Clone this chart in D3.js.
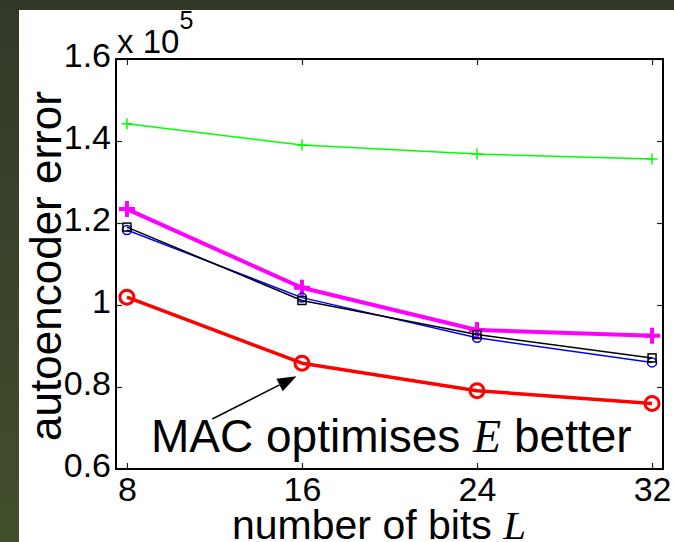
<!DOCTYPE html>
<html>
<head>
<meta charset="utf-8">
<script src="https://cdn.jsdelivr.net/npm/d3@7"></script>
<style>
  html, body { margin: 0; padding: 0; background: #343b2b; }
  svg { display: block; }
  text { font-family: "Liberation Sans", Arial, Helvetica, sans-serif; fill: #000; }
  .it { font-family: "Liberation Serif", "Times New Roman", serif; font-style: italic; }
</style>
</head>
<body>
<svg id="chart" width="674" height="542"></svg>
<script>
// Number of bits L
const bits = [8, 16, 24, 32];

// Autoencoder error for each method
const errGreen   = [144200, 139000, 136800, 135600];
const errMagenta = [123400, 104200, 93900, 92500];
const errBlack   = [119000, 101100, 92800, 87100];
const errBlue    = [118300, 101800, 92000, 86000];
const errRed     = [101900, 85800, 79100, 76000];

const xTicks = [8, 16, 24, 32];
const yTicks = [60000, 80000, 100000, 120000, 140000, 160000];

// Annotation: text anchor and arrow (tail -> head), in data units
const noteText = [9.1, 64100];
const arrowTail = [11.9, 72200];
const arrowHead = [15.75, 82600];

const W = 674, H = 542;
const box = { left: 116, right: 663, top: 59, bottom: 469 };

const svg = d3.select("#chart");

// slide background with white panel
const defs = svg.append("defs");
const grad = defs.append("linearGradient").attr("id", "bg")
  .attr("x1", 0).attr("y1", 0).attr("x2", 0).attr("y2", 1);
grad.append("stop").attr("offset", "0%").attr("stop-color", "#323829");
grad.append("stop").attr("offset", "100%").attr("stop-color", "#424f2c");
svg.append("rect").attr("width", W).attr("height", H).attr("fill", "url(#bg)");
svg.append("rect").attr("x", 19).attr("y", 10).attr("width", W - 19).attr("height", H - 10).attr("fill", "#fff");

const x = d3.scaleLinear().domain([7.5, 32.5]).range([box.left, box.right]);
const y = d3.scaleLinear().domain([60000, 160000]).range([box.bottom, box.top]);

// axes: tick marks pointing inward on all four sides
const tickLen = 6;
const g = svg.append("g");

const axB = d3.axisBottom(x).tickValues(xTicks).tickSizeInner(-tickLen).tickSizeOuter(0).tickPadding(8);
const axT = d3.axisTop(x).tickValues(xTicks).tickSizeInner(-tickLen).tickSizeOuter(0).tickFormat("");
const axL = d3.axisLeft(y).tickValues(yTicks).tickSizeInner(-tickLen).tickSizeOuter(0).tickPadding(5)
  .tickFormat(d => d3.format("")(+(d / 1e5).toFixed(1)));
const axR = d3.axisRight(y).tickValues(yTicks).tickSizeInner(-tickLen).tickSizeOuter(0).tickFormat("");

function styleAxis(sel) {
  sel.select(".domain").remove();
  sel.selectAll(".tick line").attr("stroke", "#222").attr("stroke-width", 1.2);
  sel.selectAll(".tick text").attr("font-size", 34).attr("font-family", "Liberation Sans, Arial, sans-serif").attr("fill", "#000");
}
g.append("g").attr("transform", `translate(0,${box.bottom})`).call(axB).call(styleAxis)
  .selectAll(".tick text").attr("dy", "0.71em");
g.append("g").attr("transform", `translate(0,${box.top})`).call(axT).call(styleAxis);
g.append("g").attr("transform", `translate(${box.left},0)`).call(axL).call(styleAxis)
  .selectAll(".tick text").attr("dy", "0.22em");
g.append("g").attr("transform", `translate(${box.right},0)`).call(axR).call(styleAxis);

// plot frame
svg.append("rect")
  .attr("x", box.left).attr("y", box.top)
  .attr("width", box.right - box.left).attr("height", box.bottom - box.top)
  .attr("fill", "none").attr("stroke", "#000").attr("stroke-width", 2);

// exponent label
const expo = svg.append("text").attr("x", box.left + 1).attr("y", 53).attr("font-size", 33);
expo.append("tspan").text("x 10");
expo.append("tspan").attr("dy", -24).attr("font-size", 25).text("5");

// series
const series = [
  { values: errGreen,   color: "#00ff00", width: 1.5, marker: "plus",   size: 11, mw: 1.5 },
  { values: errMagenta, color: "#ff00ff", width: 4,   marker: "plus",   size: 16, mw: 4 },
  { values: errBlue,    color: "#0000ff", width: 1.5, marker: "circle", size: 9,  mw: 1.5 },
  { values: errBlack,   color: "#000000", width: 1.5, marker: "square", size: 8,  mw: 1.5 },
  { values: errRed,     color: "#ff0000", width: 3.5, marker: "circle", size: 14, mw: 3 }
];

const line = d3.line().x(d => x(d[0])).y(d => y(d[1]));

series.forEach(s => {
  const pts = bits.map((b, i) => [b, s.values[i]]);
  const sg = svg.append("g");
  sg.append("path").datum(pts).attr("d", line)
    .attr("fill", "none").attr("stroke", s.color).attr("stroke-width", s.width)
    .attr("stroke-linejoin", "round");
  const m = sg.selectAll(".m").data(pts).enter().append("g")
    .attr("transform", d => `translate(${x(d[0])},${y(d[1])})`);
  const r = s.size / 2;
  if (s.marker === "plus") {
    m.append("path").attr("d", `M${-r},0H${r}M0,${-r}V${r}`)
      .attr("stroke", s.color).attr("stroke-width", s.mw).attr("fill", "none");
  } else if (s.marker === "circle") {
    m.append("circle").attr("r", r)
      .attr("stroke", s.color).attr("stroke-width", s.mw).attr("fill", "none");
  } else {
    m.append("rect").attr("x", -r).attr("y", -r).attr("width", s.size).attr("height", s.size)
      .attr("stroke", s.color).attr("stroke-width", s.mw).attr("fill", "none");
  }
});

// annotation with arrow
const hx = x(arrowHead[0]), hy = y(arrowHead[1]);
const tx = x(arrowTail[0]), ty = y(arrowTail[1]);
const ang = Math.atan2(hy - ty, hx - tx);
const hl = 19, hw = 7;
const bx = hx - hl * Math.cos(ang), by = hy - hl * Math.sin(ang);
svg.append("line").attr("x1", tx).attr("y1", ty).attr("x2", bx).attr("y2", by)
  .attr("stroke", "#000").attr("stroke-width", 1.5);
svg.append("path")
  .attr("d", `M${hx},${hy}L${bx + hw * Math.sin(ang)},${by - hw * Math.cos(ang)}L${bx - hw * Math.sin(ang)},${by + hw * Math.cos(ang)}Z`)
  .attr("fill", "#000");

const note = svg.append("text").attr("x", x(noteText[0])).attr("y", y(noteText[1])).attr("font-size", 46);
note.append("tspan").text("MAC optimises ");
note.append("tspan").attr("class", "it").text("E");
note.append("tspan").text(" better");

// axis titles
const xl = svg.append("text").attr("x", 379).attr("y", 539)
  .attr("text-anchor", "middle").attr("font-size", 41);
xl.append("tspan").text("number of bits ");
xl.append("tspan").attr("class", "it").text("L");

svg.append("text")
  .attr("transform", `translate(61,${(box.top + box.bottom) / 2 + 2}) rotate(-90)`)
  .attr("text-anchor", "middle").attr("font-size", 44)
  .text("autoencoder error");
</script>
</body>
</html>
